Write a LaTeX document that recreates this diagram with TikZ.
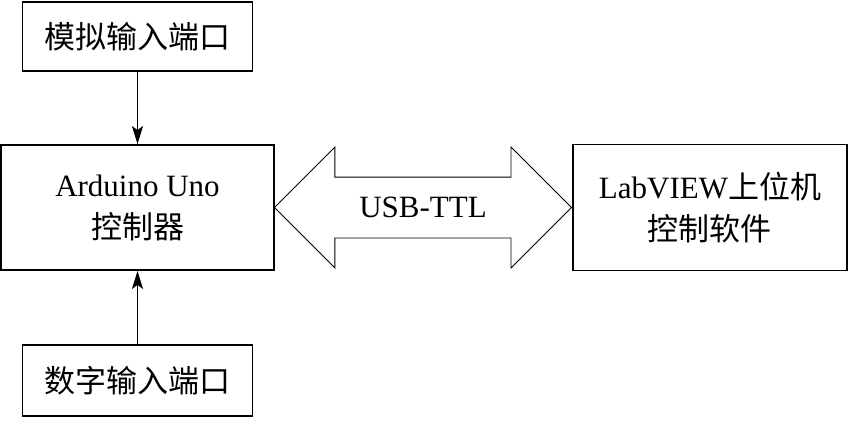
\documentclass[tikz,border=0pt]{standalone}
\usepackage{fontspec}
\setmainfont{Liberation Serif}
\newfontfamily\cjk{Noto Sans CJK SC}
\usetikzlibrary{shapes.arrows,arrows.meta,positioning}

\begin{document}
\begin{tikzpicture}[
    x=1pt, y=-1pt,
    node distance=72pt and 0pt,
    blk/.style={rectangle, draw=black, line width=1.8pt, align=center, inner sep=0pt, font=\fontsize{31}{42}\selectfont},
    port/.style={blk, minimum width=230pt, minimum height=69pt},
    ctrl/.style={blk, minimum width=273pt, minimum height=125pt},
    usbarr/.style={double arrow, draw=black, line width=0.8pt, minimum width=120pt, minimum height=297pt,
        double arrow head extend=30pt, double arrow tip angle=90, inner xsep=0pt, inner ysep=20pt,
        text height=20pt, text depth=0pt, font=\fontsize{31}{36}\selectfont},
    arr/.style={-{Stealth[length=18pt,width=11pt,inset=4pt]}, line width=1.8pt}
]
    \useasboundingbox (0,0) rectangle (859,423);
    \node [ctrl] (ard) at (137.5,207.5) {Arduino Uno\\{\cjk 控制器}};
    \node [port, above=of ard] (ana) {\cjk 模拟输入端口};
    \node [port, below=73pt of ard, minimum height=71pt] (dig) {\cjk 数字输入端口};
    \node [usbarr, right=-1pt of ard] (usb) {USB-TTL};
    \node [ctrl, right=0pt of usb, minimum width=274pt, minimum height=126pt] (lab) {LabVIEW{\cjk 上位机}\\{\cjk 控制软件}};

    \draw [arr] (ana) -- (ard);
    \draw [arr] (dig) -- (ard);
\end{tikzpicture}
\end{document}
